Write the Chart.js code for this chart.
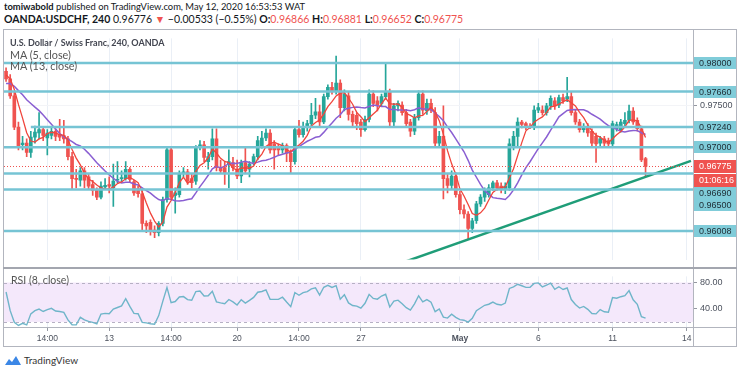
<!DOCTYPE html>
<html>
<head>
<meta charset="utf-8">
<script src="https://cdn.jsdelivr.net/npm/chart.js@4.4.1/dist/chart.umd.min.js"></script>
<style>
  body { margin: 0; width: 740px; height: 373px; background: #fff; position: relative; overflow: hidden; font-family: Lato, "Open Sans", sans-serif; color: #131722; }
  .abs { position: absolute; }
  #h1 { left: 4px; top: 1px; font-size: 9.4px; line-height: 12px; white-space: nowrap; }
  #h2 { left: 4px; top: 13px; font-size: 10.5px; line-height: 12px; white-space: nowrap; }
  .r { color: #ef5350; }
  .line { position: absolute; background: #b2b5be; z-index: 3; }
  #legend { left: 10px; top: 37px; z-index: 4; font-size: 10.8px; line-height: 11.5px; color: #555; white-space: nowrap; }
  #legend .t { color: #434651; font-weight: bold; font-size: 9px; }
  #rsiLegend { left: 11px; top: 274px; z-index: 4; font-size: 10.5px; line-height: 12px; color: #555; }
  #logo { left: 4px; top: 354px; font-size: 10px; color: #333; display: flex; align-items: center; gap: 2px; }
</style>
</head>
<body>
<div id="h1" class="abs"><b>tomiwabold</b> published on TradingView.com, May 12, 2020 16:53:53 WAT</div>
<div id="h2" class="abs"><b>OANDA:USDCHF, 240</b> 0.96776 <span class="r">▼</span> −0.00533 (−0.55%) <b>O:</b><span class="r">0.96866</span> <b>H:</b><span class="r">0.96881</span> <b>L:</b><span class="r">0.96652</span> <b>C:</b><span class="r">0.96775</span></div>

<canvas id="main" class="abs" width="740" height="238" style="left:0;top:30px"></canvas>
<canvas id="rsi" class="abs" width="740" height="79" style="left:0;top:268px"></canvas>

<div id="legend" class="abs"><div class="t">U.S. Dollar / Swiss Franc, 240, OANDA</div><div>MA (5, close)</div><div>MA (13, close)</div></div>
<div id="rsiLegend" class="abs">RSI (8, close)</div>

<div class="line" style="left:3px;top:29px;width:734px;height:1px"></div>
<div class="line" style="left:3px;top:346px;width:734px;height:1px"></div>
<div class="line" style="left:3px;top:29px;width:1px;height:318px"></div>
<div class="line" style="left:736px;top:29px;width:1px;height:318px"></div>
<div class="line" style="left:693px;top:29px;width:1px;height:318px"></div>
<div class="line" style="left:3px;top:267px;width:734px;height:2px;background:#a3a6af"></div>
<div class="line" style="left:3px;top:327px;width:734px;height:1px"></div>

<div id="logo" class="abs"><svg width="18" height="12" viewBox="0 0 18 12"><path d="M1 11 L5 5 L8 8 L12 2 L17 11 Z" fill="#3b87e6"/></svg><span>TradingView</span></div>

<script>
// USD/CHF 4h candles (OANDA), oldest first
const opens = [0.9790,0.9781,0.9761,0.9724,0.9703,0.9705,0.9694,0.9712,0.9717,0.9721,
  0.9711,0.9714,0.9719,0.9715,0.9714,0.9710,0.9689,0.9663,0.9661,0.9672,
  0.9665,0.9656,0.9649,0.9641,0.9653,0.9656,0.9652,0.9661,0.9663,0.9663,
  0.9674,0.9659,0.9651,0.9645,0.9610,0.9611,0.9602,0.9599,0.9610,0.9638,
  0.9697,0.9643,0.9644,0.9669,0.9671,0.9663,0.9660,0.9700,0.9703,0.9683,
  0.9689,0.9710,0.9676,0.9676,0.9680,0.9682,0.9674,0.9666,0.9682,0.9674,
  0.9682,0.9689,0.9702,0.9711,0.9717,0.9704,0.9700,0.9697,0.9702,0.9693,
  0.9683,0.9721,0.9715,0.9724,0.9728,0.9738,0.9742,0.9730,0.9760,0.9771,
  0.9767,0.9776,0.9747,0.9761,0.9739,0.9738,0.9730,0.9721,0.9733,0.9763,
  0.9755,0.9752,0.9760,0.9766,0.9730,0.9749,0.9750,0.9741,0.9730,0.9719,
  0.9735,0.9763,0.9743,0.9752,0.9741,0.9705,0.9713,0.9663,0.9655,0.9666,
  0.9644,0.9626,0.9621,0.9604,0.9613,0.9633,0.9641,0.9644,0.9652,0.9658,
  0.9654,0.9650,0.9652,0.9702,0.9713,0.9730,0.9728,0.9725,0.9724,0.9744,
  0.9744,0.9741,0.9749,0.9755,0.9750,0.9759,0.9757,0.9760,0.9741,0.9730,
  0.9721,0.9724,0.9719,0.9713,0.9705,0.9710,0.9708,0.9704,0.9722,0.9721,
  0.9728,0.9732,0.9743,0.9732,0.9722,0.96866];
const highs = [0.9794,0.9786,0.9766,0.9730,0.9713,0.9710,0.9719,0.9725,0.9741,0.9724,
  0.9721,0.9723,0.9722,0.9733,0.9732,0.9713,0.9694,0.9674,0.9676,0.9676,
  0.9669,0.9661,0.9652,0.9659,0.9663,0.9665,0.9680,0.9683,0.9672,0.9683,
  0.9676,0.9661,0.9654,0.9649,0.9613,0.9614,0.9607,0.9612,0.9641,0.9699,
  0.9699,0.9652,0.9672,0.9676,0.9674,0.9668,0.9702,0.9708,0.9707,0.9694,
  0.9722,0.9722,0.9685,0.9683,0.9697,0.9688,0.9685,0.9685,0.9699,0.9683,
  0.9692,0.9713,0.9719,0.9722,0.9721,0.9708,0.9704,0.9705,0.9704,0.9697,
  0.9724,0.9732,0.9730,0.9732,0.9752,0.9758,0.9750,0.9763,0.9774,0.9777,
  0.9808,0.9780,0.9768,0.9766,0.9743,0.9741,0.9733,0.9737,0.9768,0.9767,
  0.9760,0.9763,0.9800,0.9769,0.9752,0.9755,0.9754,0.9745,0.9733,0.9739,
  0.9767,0.9767,0.9757,0.9757,0.9747,0.9719,0.9749,0.9669,0.9672,0.9670,
  0.9648,0.9632,0.9624,0.9616,0.9636,0.9644,0.9652,0.9656,0.9660,0.9661,
  0.9658,0.9658,0.9710,0.9719,0.9735,0.9732,0.9730,0.9728,0.9749,0.9752,
  0.9749,0.9752,0.9761,0.9759,0.9762,0.9763,0.9783,0.9766,0.9744,0.9733,
  0.9728,0.9728,0.9722,0.9717,0.9713,0.9713,0.9711,0.9731,0.9730,0.9733,
  0.9741,0.9750,0.9747,0.9735,0.9725,0.96881];
const lows = [0.9778,0.9758,0.9721,0.9697,0.9697,0.9689,0.9688,0.9705,0.9710,0.9708,
  0.9691,0.9710,0.9708,0.9708,0.9705,0.9685,0.9650,0.9652,0.9654,0.9652,
  0.9650,0.9643,0.9638,0.9639,0.9650,0.9646,0.9630,0.9658,0.9659,0.9661,
  0.9658,0.9643,0.9641,0.9602,0.9599,0.9596,0.9593,0.9595,0.9607,0.9635,
  0.9639,0.9622,0.9641,0.9665,0.9656,0.9652,0.9656,0.9697,0.9683,0.9674,
  0.9685,0.9672,0.9669,0.9656,0.9652,0.9672,0.9663,0.9658,0.9669,0.9665,
  0.9679,0.9685,0.9699,0.9708,0.9693,0.9674,0.9691,0.9693,0.9683,0.9669,
  0.9680,0.9712,0.9712,0.9719,0.9724,0.9734,0.9725,0.9728,0.9757,0.9763,
  0.9763,0.9735,0.9743,0.9732,0.9725,0.9721,0.9713,0.9719,0.9730,0.9748,
  0.9743,0.9749,0.9757,0.9724,0.9725,0.9743,0.9738,0.9724,0.9713,0.9715,
  0.9732,0.9739,0.9739,0.9741,0.9702,0.9701,0.9639,0.9646,0.9650,0.9641,
  0.9621,0.9616,0.9591,0.9599,0.9610,0.9630,0.9636,0.9641,0.9649,0.9649,
  0.9646,0.9645,0.9649,0.9697,0.9702,0.9723,0.9721,0.9722,0.9721,0.9741,
  0.9738,0.9738,0.9745,0.9745,0.9747,0.9752,0.9754,0.9738,0.9727,0.9718,
  0.9718,0.9713,0.9702,0.9682,0.9702,0.9702,0.9701,0.9701,0.9719,0.9718,
  0.9724,0.9729,0.9727,0.9719,0.9683,0.96652];
const closes = [0.9781,0.9761,0.9724,0.9702,0.9705,0.9694,0.9712,0.9718,0.9721,0.9714,
  0.9717,0.9719,0.9713,0.9712,0.9710,0.9689,0.9663,0.9662,0.9672,0.9661,
  0.9654,0.9649,0.9641,0.9654,0.9655,0.9654,0.9660,0.9662,0.9664,0.9674,
  0.9662,0.9646,0.9645,0.9610,0.9607,0.9602,0.9599,0.9610,0.9638,0.9697,
  0.9641,0.9646,0.9669,0.9671,0.9660,0.9658,0.9700,0.9703,0.9688,0.9689,
  0.9710,0.9676,0.9672,0.9669,0.9683,0.9676,0.9666,0.9682,0.9672,0.9680,
  0.9689,0.9708,0.9711,0.9717,0.9697,0.9697,0.9697,0.9702,0.9693,0.9683,
  0.9721,0.9715,0.9724,0.9728,0.9738,0.9742,0.9730,0.9760,0.9771,0.9767,
  0.9776,0.9747,0.9763,0.9739,0.9730,0.9728,0.9721,0.9733,0.9763,0.9752,
  0.9750,0.9760,0.9766,0.9730,0.9749,0.9752,0.9741,0.9728,0.9719,0.9735,
  0.9763,0.9744,0.9752,0.9744,0.9705,0.9713,0.9663,0.9655,0.9666,0.9644,
  0.9626,0.9621,0.9604,0.9613,0.9633,0.9641,0.9649,0.9652,0.9658,0.9652,
  0.9650,0.9654,0.9704,0.9713,0.9730,0.9727,0.9724,0.9724,0.9744,0.9747,
  0.9741,0.9749,0.9758,0.9749,0.9759,0.9755,0.9760,0.9741,0.9730,0.9721,
  0.9724,0.9717,0.9705,0.9704,0.9710,0.9705,0.9704,0.9728,0.9727,0.9730,
  0.9732,0.9743,0.9730,0.9722,0.9685,0.96775];
// closes just before the visible window (needed for MA / RSI warm-up)
const priorCloses = [0.9761,0.9766,0.9769,0.9768,0.9772,0.9770,0.9774,0.9774,0.9783,0.9788,0.9790,0.9786];

// horizontal levels drawn on the chart
const levels = [0.98000, 0.97660, 0.97240, 0.97000, 0.96690, 0.96500, 0.96008];
const levelStartBar = [0, 0, 6, 0, 0, 0, 0];
const lastPrice = 0.96775;
const countdown = '01:06:16';

// rising trendline (bar index, price)
const trendBars = [97, 166];
const trendPrices = [0.9565, 0.9684];

// time axis
const slotCount = 167;
const tickSlots = [10, 25, 40, 56, 71, 86, 110, 129, 147, 165];
const tickLabels = ['14:00', '13', '14:00', '20', '14:00', '27', 'May', '6', '11', '14'];
const rsiTicks = [40, 80];

const UP = '#26a69a', DOWN = '#ef5350';
const LEVEL_COLOR = '#76c4d4';
const AXIS_FONT = '"Liberation Sans", Arial, sans-serif';

Chart.defaults.font.family = AXIS_FONT;
Chart.defaults.animation = false;

const labels = Array.from({ length: slotCount }, (_, i) => {
  const k = tickSlots.indexOf(i);
  return k >= 0 ? tickLabels[k] : '';
});

function sma(src, n) {
  return src.map((_, i) => {
    const s = src.slice(Math.max(0, i - n + 1), i + 1);
    return s.reduce((a, b) => a + b, 0) / s.length;
  });
}
function rsi(src, n) {
  const out = new Array(src.length).fill(null);
  let g = 0, l = 0;
  for (let i = 1; i < src.length; i++) {
    const d = src[i] - src[i - 1];
    const up = Math.max(d, 0), dn = Math.max(-d, 0);
    if (i <= n) {
      g += up / n; l += dn / n;
      if (i < n) continue;
    } else {
      g = (g * (n - 1) + up) / n;
      l = (l * (n - 1) + dn) / n;
    }
    out[i] = l === 0 ? 100 : 100 - 100 / (1 + g / l);
  }
  return out;
}

const allCloses = priorCloses.concat(closes);
const skip = priorCloses.length;
const ma5 = sma(allCloses, 5).slice(skip);
const ma13 = sma(allCloses, 13).slice(skip);
const rsi8 = rsi(allCloses, 8).slice(skip);

const candleColors = closes.map((c, i) => (c >= opens[i] ? UP : DOWN));
const trendData = labels.map((_, i) => {
  const k = trendBars.indexOf(i);
  return k >= 0 ? trendPrices[k] : null;
});

const gridColor = c => (labels[c.index] ? '#eaeff6' : 'rgba(0,0,0,0)');

// levels, last price line and price-axis boxes
const overlayPlugin = {
  id: 'overlay',
  afterDatasetsDraw(chart) {
    const { ctx, chartArea: a, scales: { x, y } } = chart;
    ctx.save();
    ctx.beginPath();
    ctx.rect(a.left, a.top, a.right - a.left, a.bottom - a.top);
    ctx.clip();
    ctx.strokeStyle = LEVEL_COLOR;
    ctx.lineWidth = 2.5;
    levels.forEach((v, k) => {
      const py = y.getPixelForValue(v);
      const x0 = levelStartBar[k] > 0 ? x.getPixelForValue(levelStartBar[k]) : a.left;
      ctx.beginPath();
      ctx.moveTo(x0, py);
      ctx.lineTo(a.right, py);
      ctx.stroke();
    });
    ctx.setLineDash([1, 2]);
    ctx.strokeStyle = DOWN;
    ctx.lineWidth = 1;
    const cy = Math.round(y.getPixelForValue(lastPrice)) + 0.5;
    ctx.beginPath();
    ctx.moveTo(a.left, cy);
    ctx.lineTo(a.right, cy);
    ctx.stroke();
    ctx.restore();
  },
  afterDraw(chart) {
    const { ctx, chartArea: a, scales: { y } } = chart;
    const gap = 12.3;
    const py = y.getPixelForValue(lastPrice);
    const placed = [
      { text: lastPrice.toFixed(5), bg: DOWN, fg: '#fff', y: py, h: 13 },
      { text: countdown, bg: DOWN, fg: '#fff', y: py + 14, h: 13 }
    ];
    levels.map(v => ({ text: v.toFixed(5), bg: '#80ccd9', fg: '#1d2b33', y: y.getPixelForValue(v), h: 12 }))
      .sort((p, q) => p.y - q.y)
      .forEach(b => {
        let moved = true;
        while (moved) {
          moved = false;
          for (const p of placed) {
            if (Math.abs(b.y - p.y) < gap) { b.y = p.y + gap; moved = true; }
          }
        }
        placed.push(b);
      });
    ctx.save();
    ctx.font = '9px ' + AXIS_FONT;
    ctx.textBaseline = 'middle';
    placed.forEach(b => {
      ctx.fillStyle = b.bg;
      ctx.fillRect(a.right + 1, Math.round(b.y - b.h / 2), 42, b.h);
      ctx.fillStyle = b.fg;
      ctx.fillText(b.text, a.right + 6, b.y + 0.5);
    });
    ctx.restore();
  }
};

new Chart(document.getElementById('main'), {
  type: 'bar',
  data: {
    labels: labels,
    datasets: [
      { type: 'line', data: trendData, borderColor: '#1f9d78', borderWidth: 2.5, pointRadius: 0, spanGaps: true, order: 1 },
      { type: 'line', data: ma5, borderColor: '#f0453c', borderWidth: 1.3, pointRadius: 0, order: 2 },
      { type: 'line', data: ma13, borderColor: '#8a5fd2', borderWidth: 1.5, pointRadius: 0, order: 3 },
      { data: opens.map((o, i) => [o, closes[i]]), backgroundColor: candleColors, barThickness: 3, minBarLength: 1, grouped: false, order: 4 },
      { data: lows.map((l, i) => [l, highs[i]]), backgroundColor: candleColors, barThickness: 1, grouped: false, order: 5 }
    ]
  },
  options: {
    responsive: false,
    devicePixelRatio: 1,
    layout: { padding: { left: 4, right: 4, top: 0, bottom: 0 } },
    plugins: { legend: { display: false }, tooltip: { enabled: false } },
    scales: {
      x: {
        offset: true,
        grid: { offset: false, color: gridColor, drawTicks: false },
        border: { display: false },
        ticks: { display: false, autoSkip: false },
        afterFit: s => { s.height = 0; }
      },
      y: {
        position: 'right',
        min: 0.9567,
        max: 0.9829,
        grid: { color: '#f3f4f7', tickLength: 4, tickColor: '#9598a1' },
        border: { display: false },
        ticks: { stepSize: 0.005, includeBounds: false, padding: 3, color: '#4c525e', font: { size: 9 }, callback: v => v.toFixed(5) },
        afterFit: s => { s.width = 43; }
      }
    }
  },
  plugins: [overlayPlugin]
});

// RSI band 20..80
const bandPlugin = {
  id: 'band',
  beforeDatasetsDraw(chart) {
    const { ctx, chartArea: a, scales: { y } } = chart;
    const top = y.getPixelForValue(80), bot = y.getPixelForValue(20);
    ctx.save();
    ctx.fillStyle = '#f4e8fb';
    ctx.fillRect(a.left, top, a.right - a.left, bot - top);
    ctx.strokeStyle = '#b6b0c4';
    ctx.lineWidth = 1;
    ctx.setLineDash([3, 3]);
    [top, bot].forEach(p => {
      ctx.beginPath();
      ctx.moveTo(a.left, Math.round(p) + 0.5);
      ctx.lineTo(a.right, Math.round(p) + 0.5);
      ctx.stroke();
    });
    ctx.restore();
  }
};

new Chart(document.getElementById('rsi'), {
  type: 'line',
  data: {
    labels: labels,
    datasets: [
      { data: rsi8, borderColor: '#6fb5c9', borderWidth: 1.4, pointRadius: 0 }
    ]
  },
  options: {
    responsive: false,
    devicePixelRatio: 1,
    layout: { padding: { left: 4, right: 4, top: 0, bottom: 0 } },
    plugins: { legend: { display: false }, tooltip: { enabled: false } },
    scales: {
      x: {
        offset: true,
        grid: { offset: false, color: gridColor, tickLength: 3, tickColor: c => (labels[c.index] ? '#9598a1' : 'rgba(0,0,0,0)') },
        border: { display: false },
        ticks: {
          autoSkip: false, maxRotation: 0, padding: 3, color: '#4c525e',
          font: c => ({ size: 8.5, weight: c.tick && c.tick.label === 'May' ? 'bold' : 'normal' })
        },
        afterFit: s => { s.height = 19; }
      },
      y: {
        position: 'right',
        min: 10.7,
        max: 89.3,
        afterBuildTicks: s => { s.ticks = rsiTicks.map(v => ({ value: v })); },
        grid: { color: 'rgba(0,0,0,0)', tickLength: 4, tickColor: '#9598a1' },
        border: { display: false },
        ticks: { padding: 3, color: '#4c525e', font: { size: 9 }, callback: v => v.toFixed(2) },
        afterFit: s => { s.width = 43; }
      }
    }
  },
  plugins: [bandPlugin]
});
</script>
</body>
</html>
